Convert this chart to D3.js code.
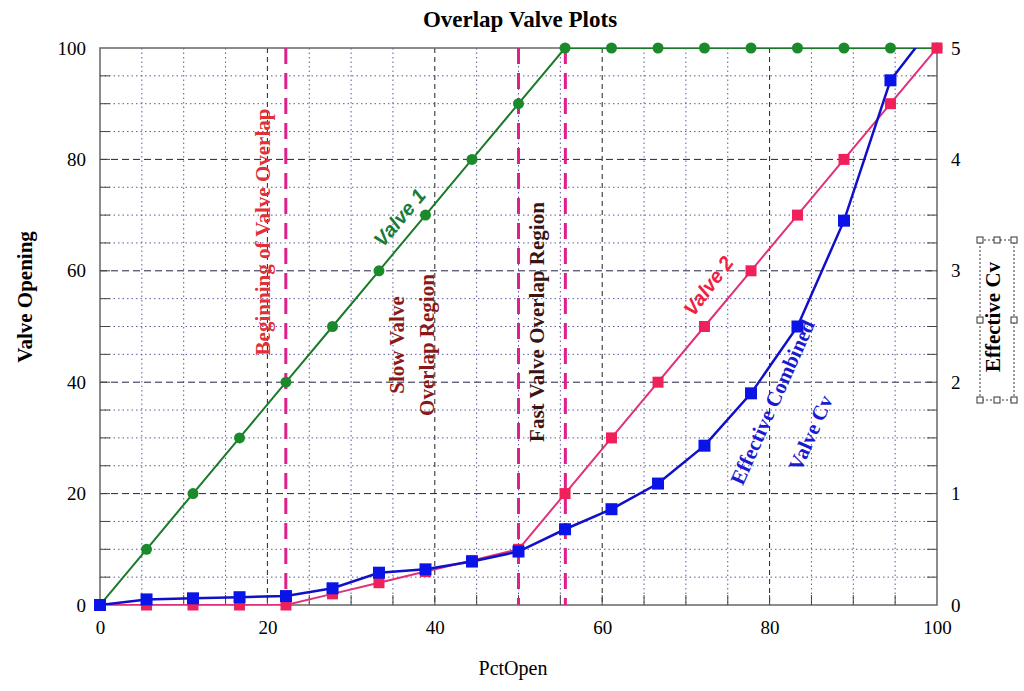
<!DOCTYPE html>
<html><head><meta charset="utf-8">
<script src="https://cdn.jsdelivr.net/npm/d3@7"></script>
<style>body{margin:0;background:#fff}svg{font-family:"Liberation Serif","Times New Roman",serif}</style>
</head><body><svg id="c" width="1024" height="691"></svg>
<script>
// data
let pct = [0,5.56,11.11,16.67,22.22,27.78,33.33,38.89,44.44,50,55.56,61.11,66.67,72.22,77.78,83.33,88.89,94.44,100];
let valve1 = [0,10,20,30,40,50,60,70,80,90,100,100,100,100,100,100,100,100,100];
let valve2 = [0,0,0,0,0,2,4,6,8,10,20,30,40,50,60,70,80,90,100];
let cv = [0,0.05,0.06,0.07,0.08,0.15,0.29,0.32,0.39,0.48,0.68,0.86,1.09,1.43,1.9,2.5,3.45,4.71,5.25];
let cvMarkers = 18; // last point has no marker, it leaves the frame
let markerLines = [22.2, 50, 55.6];

const svg = d3.select("#c");
const m = {l:100, r:937, t:48, b:605};
const x = d3.scaleLinear().domain([0,100]).range([m.l,m.r]);
const y = d3.scaleLinear().domain([0,100]).range([m.b,m.t]);
const y2 = d3.scaleLinear().domain([0,5]).range([m.b,m.t]);

svg.append("defs").append("clipPath").attr("id","clip")
  .append("rect").attr("x",m.l).attr("y",m.t).attr("width",m.r-m.l).attr("height",m.b-m.t);

// grid
const g = svg.append("g");
d3.range(5,100,5).forEach(v=>{
  const major = v%20===0;
  g.append("line").attr("x1",x(v)).attr("x2",x(v)).attr("y1",m.t).attr("y2",m.b)
    .attr("stroke",major?"#222":"#5a5aa0").attr("stroke-width",1)
    .attr("stroke-dasharray",major?"5,4":"1.5,3");
  g.append("line").attr("y1",y(v)).attr("y2",y(v)).attr("x1",m.l).attr("x2",m.r)
    .attr("stroke",major?"#222244":"#5a5aa0").attr("stroke-width",1)
    .attr("stroke-dasharray",major?"7,4":"1.5,3");
});
g.append("rect").attr("x",m.l).attr("y",m.t).attr("width",m.r-m.l).attr("height",m.b-m.t)
  .attr("fill","none").attr("stroke","#666").attr("stroke-width",1.5);

// axes
const fs = "19px";
const ax = svg.append("g").attr("transform",`translate(0,${m.b})`)
  .call(d3.axisBottom(x).tickValues([0,20,40,60,80,100]).tickSize(0).tickPadding(16));
const ay = svg.append("g").attr("transform",`translate(${m.l},0)`)
  .call(d3.axisLeft(y).tickValues([0,20,40,60,80,100]).tickSize(0).tickPadding(14));
const ay2 = svg.append("g").attr("transform",`translate(${m.r},0)`)
  .call(d3.axisRight(y2).tickValues([0,1,2,3,4,5]).tickFormat(d3.format("d")).tickSize(0).tickPadding(14));
[ax,ay,ay2].forEach(a=>{a.select(".domain").remove();a.selectAll("text").attr("font-family","Liberation Serif").attr("font-size",fs).attr("fill","#000");});
// small ticks
d3.range(5,100,5).forEach(v=>{
  g.append("line").attr("x1",m.l).attr("x2",m.l+10).attr("y1",y(v)).attr("y2",y(v)).attr("stroke","#444");
  g.append("line").attr("x1",m.r-10).attr("x2",m.r).attr("y1",y(v)).attr("y2",y(v)).attr("stroke","#444");
  g.append("line").attr("y1",m.b).attr("y2",m.b-10).attr("x1",x(v)).attr("x2",x(v)).attr("stroke","#444");
});

// vertical marker lines
markerLines.forEach(v=>svg.append("line").attr("x1",x(v)).attr("x2",x(v)).attr("y1",m.t).attr("y2",m.b)
  .attr("stroke","#e0208a").attr("stroke-width",3).attr("stroke-dasharray","16,9"));

// series
const plot = svg.append("g").attr("clip-path","url(#clip)");
const line = d3.line();
const s1 = pct.map((p,i)=>[x(p),y(valve1[i])]);
const s2 = pct.map((p,i)=>[x(p),y(valve2[i])]);
const s3 = pct.map((p,i)=>[x(p),y2(cv[i])]);
plot.append("path").attr("d",line(s1)).attr("fill","none").attr("stroke","#1a7a2a").attr("stroke-width",2);
plot.append("path").attr("d",line(s2)).attr("fill","none").attr("stroke","#e0307a").attr("stroke-width",2);
plot.append("path").attr("d",line(s3)).attr("fill","none").attr("stroke","#1010c8").attr("stroke-width",2.5);
svg.selectAll(".p1").data(s1).join("circle").attr("cx",d=>d[0]).attr("cy",d=>d[1]).attr("r",5.5).attr("fill","#1a8a2a");
svg.selectAll(".p2").data(s2).join("rect").attr("x",d=>d[0]-5.5).attr("y",d=>d[1]-5.5).attr("width",11).attr("height",11).attr("fill","#f0205a");
svg.selectAll(".p3").data(s3.slice(0,cvMarkers)).join("rect").attr("x",d=>d[0]-6).attr("y",d=>d[1]-6).attr("width",12).attr("height",12).attr("fill","#0a14e8");

// labels
function txt(t,px,py,rot,opt){
  const e = svg.append("text").attr("transform",`translate(${px},${py}) rotate(${rot})`)
    .attr("text-anchor","middle").attr("font-weight","bold").attr("font-size",opt.size||"21px")
    .attr("fill",opt.fill||"#000").text(t);
  if(opt.family) e.attr("font-family",opt.family);
  if(opt.italic) e.attr("font-style","italic");
  return e;
}
txt("Overlap Valve Plots",520,27,0,{size:"23px"});
txt("PctOpen",513,675,0,{size:"20px"}).attr("font-weight","normal");
txt("Valve Opening",32,297,-90,{size:"21px"});
txt("Effective Cv",1000,317,-90,{size:"21px"});
svg.append("rect").attr("x",980).attr("y",240).attr("width",34).attr("height",160).attr("fill","none")
  .attr("stroke","#333").attr("stroke-dasharray","2,2");
[[980,240],[1014,240],[980,320],[1014,320],[980,400],[1014,400],[997,240],[997,400]].forEach(p=>
  svg.append("rect").attr("x",p[0]-3).attr("y",p[1]-3).attr("width",6).attr("height",6).attr("fill","#fff").attr("stroke","#333"));
txt("Beginning of Valve Overlap",270,232,-90,{fill:"#e03038"});
txt("Slow Valve",404,345,-90,{fill:"#8b1818"});
txt("Overlap Region",434,345,-90,{fill:"#8b1818"});
txt("Fast Valve Overlap Region",544,322,-90,{fill:"#3a1414"});
txt("Valve 1",405,222,-50,{fill:"#1a7a3a",family:"Liberation Sans",italic:true,size:"20px"});
txt("Valve 2",714,290,-53,{fill:"#f02040",family:"Liberation Sans",italic:true,size:"20px"});
txt("Effective Combined",779,405,-66,{fill:"#1a1ad0"});
txt("Valve Cv",817,436,-66,{fill:"#1a1ad0"});
</script></body></html>
